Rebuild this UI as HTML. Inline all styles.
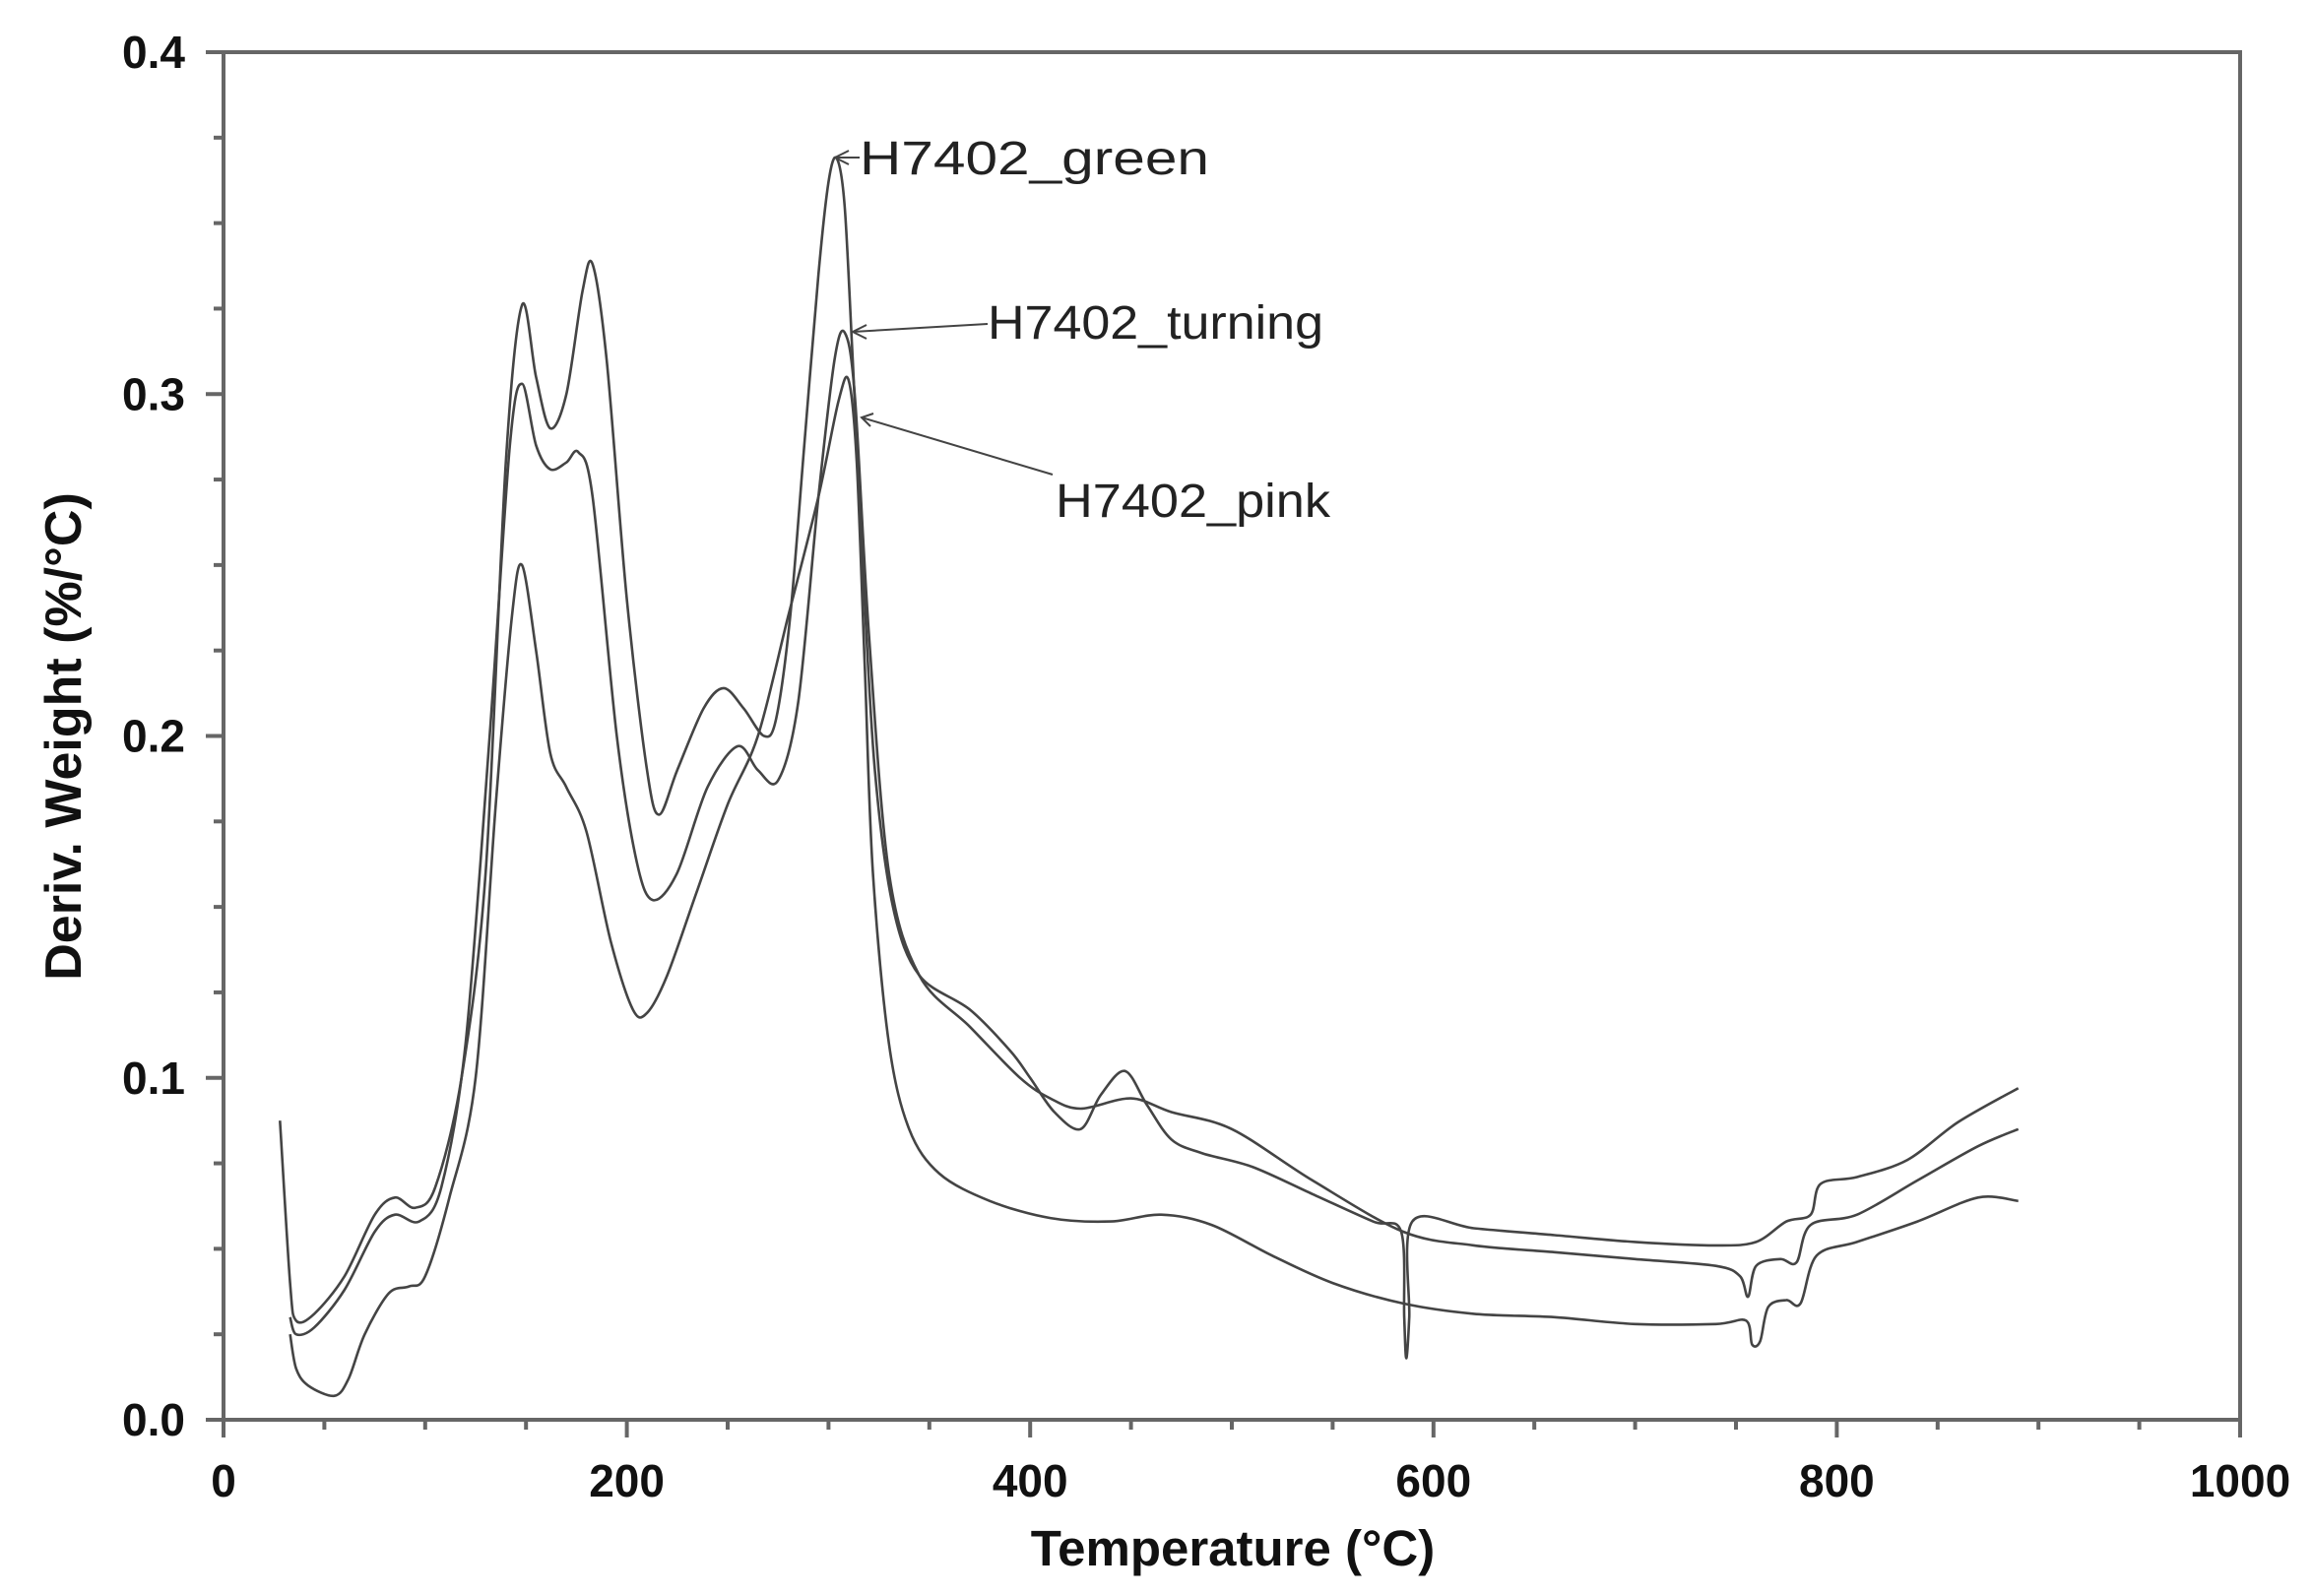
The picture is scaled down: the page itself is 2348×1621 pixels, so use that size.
<!DOCTYPE html>
<html><head><meta charset="utf-8"><style>
html,body{margin:0;padding:0;background:#fff}
svg{display:block}
text{font-family:"Liberation Sans",Arial,sans-serif}
.tk{font-size:46px;font-weight:bold;fill:#111}
.lb{font-size:48px;fill:#222}
</style></head><body>
<svg id="s" width="2348" height="1621" viewBox="0 0 2348 1621" xmlns="http://www.w3.org/2000/svg">
<rect width="2348" height="1621" fill="#fff"/>
<g id="ax" stroke="#666" stroke-width="4" fill="none"></g>
<g id="tx"></g>
<g id="cv" stroke="#444" stroke-width="2.6" fill="none"></g>
<text class="lb" x="873" y="177" textLength="355" lengthAdjust="spacingAndGlyphs">H7402_green</text>
<text class="lb" x="1003" y="344" textLength="341" lengthAdjust="spacingAndGlyphs">H7402_turning</text>
<text class="lb" x="1072" y="525" textLength="279" lengthAdjust="spacingAndGlyphs">H7402_pink</text>
<g stroke="#444" stroke-width="2" fill="none">
<line x1="873" y1="160" x2="848" y2="160"/><path d="M862 153 L848 160 L862 167"/>
<line x1="1003" y1="329" x2="866" y2="337"/><path d="M880 330 L866 337 L880 344"/>
<line x1="1069" y1="482" x2="875" y2="424"/><path d="M887 420 L875 424 L884 433"/>
</g>
<text x="1252" y="1590" text-anchor="middle" style="font-size:51px;font-weight:bold;fill:#111">Temperature (°C)</text>
<text transform="translate(82,748) rotate(-90)" text-anchor="middle" style="font-size:52px;font-weight:bold;fill:#111">Deriv. Weight (%/°C)</text>
</svg>
<script>
var X0=227,X1=2275,Y0=1442,YT=53;
function px(t){return X0+(X1-X0)*t/1000}
function py(v){return Y0-(Y0-YT)*v/0.4}
var ax=document.getElementById('ax'),tx=document.getElementById('tx'),NS='http://www.w3.org/2000/svg';
function el(p,n,a,t){var e=document.createElementNS(NS,n);for(var k in a)e.setAttribute(k,a[k]);if(t!=null)e.textContent=t;p.appendChild(e);return e}
el(ax,'rect',{x:X0,y:YT,width:X1-X0,height:Y0-YT});
for(var t=0;t<=1000;t+=50){var x=px(t);el(ax,'line',{x1:x,y1:Y0,x2:x,y2:Y0+(t%200==0?18:10)});}
for(var t=0;t<=1000;t+=200)el(tx,'text',{x:px(t),y:Y0+78,'text-anchor':'middle','class':'tk'},String(t));
for(var i=0;i<=16;i++){var v=i*0.025,y=py(v);el(ax,'line',{x1:X0,y1:y,x2:X0-(i%4==0?18:10),y2:y});}
for(var i=0;i<=4;i++)el(tx,'text',{x:188,y:py(i*0.1)+16,'text-anchor':'end','class':'tk'},(i*0.1).toFixed(1));
var green=[[28,0.0875],[33,0.04],[36,0.029],[45,0.031],[60,0.042],[75,0.06],[85,0.065],[95,0.062],[105,0.068],[118,0.1],[130,0.16],[140,0.28],[148,0.326],[155,0.305],[162,0.29],[170,0.3],[178,0.33],[183,0.338],[190,0.31],[200,0.24],[210,0.19],[216,0.177],[225,0.19],[238,0.208],[248,0.214],[258,0.208],[268,0.2],[274,0.205],[281,0.235],[288,0.285],[295,0.335],[300,0.362],[304,0.369],[308,0.355],[312,0.31],[317,0.25],[323,0.19],[332,0.15],[345,0.13],[370,0.12],[390,0.108],[400,0.1],[412,0.09],[425,0.085],[435,0.095],[447,0.102],[458,0.092],[470,0.082],[485,0.078],[510,0.074],[540,0.066],[570,0.058],[584,0.055],[585.5,0.03],[586.5,0.018],[588,0.03],[589.5,0.058],[620,0.056],[660,0.054],[700,0.052],[740,0.051],[760,0.052],[775,0.058],[787,0.06],[792,0.069],[810,0.071],[835,0.076],[860,0.087],[890,0.097]];
var turning=[[33,0.03],[36,0.025],[45,0.027],[60,0.038],[75,0.055],[85,0.06],[97,0.058],[108,0.068],[120,0.11],[132,0.2],[142,0.285],[148,0.303],[155,0.285],[162,0.278],[170,0.28],[176,0.283],[183,0.27],[195,0.2],[205,0.163],[213,0.152],[225,0.16],[240,0.185],[255,0.197],[265,0.19],[275,0.187],[285,0.21],[295,0.27],[303,0.31],[308,0.318],[313,0.3],[320,0.23],[330,0.16],[345,0.13],[370,0.115],[395,0.1],[410,0.094],[425,0.091],[450,0.094],[470,0.09],[500,0.085],[540,0.07],[585,0.055],[620,0.051],[660,0.049],[700,0.047],[740,0.045],[752,0.042],[756,0.036],[760,0.045],[772,0.047],[780,0.046],[787,0.057],[810,0.06],[840,0.07],[870,0.08],[890,0.085]];
var pink=[[33,0.025],[36,0.015],[42,0.01],[55,0.007],[62,0.012],[70,0.025],[82,0.037],[92,0.039],[100,0.042],[112,0.065],[125,0.1],[135,0.18],[143,0.235],[148,0.25],[155,0.225],[162,0.195],[170,0.185],[180,0.172],[192,0.14],[203,0.12],[210,0.119],[220,0.13],[235,0.155],[250,0.18],[265,0.2],[280,0.235],[295,0.27],[305,0.298],[310,0.304],[314,0.28],[318,0.22],[322,0.16],[330,0.11],[340,0.085],[355,0.072],[380,0.064],[410,0.059],[440,0.058],[465,0.06],[490,0.057],[520,0.048],[550,0.04],[585,0.034],[620,0.031],[660,0.03],[700,0.028],[740,0.028],[755,0.029],[758,0.022],[762,0.023],[766,0.033],[775,0.035],[782,0.034],[790,0.048],[810,0.052],[840,0.058],[870,0.065],[890,0.064]];
function path(d){var P=d.map(function(p){return[px(p[0]),py(p[1])]});var s='M'+P[0][0].toFixed(1)+' '+P[0][1].toFixed(1);
for(var i=0;i<P.length-1;i++){var p0=P[i-1]||P[i],p1=P[i],p2=P[i+1],p3=P[i+2]||P[i+1];var k=0.16;
s+=' C'+(p1[0]+(p2[0]-p0[0])*k).toFixed(1)+' '+(p1[1]+(p2[1]-p0[1])*k).toFixed(1)+' '+(p2[0]-(p3[0]-p1[0])*k).toFixed(1)+' '+(p2[1]-(p3[1]-p1[1])*k).toFixed(1)+' '+p2[0].toFixed(1)+' '+p2[1].toFixed(1);}
return s}
var cv=document.getElementById('cv');
[green,turning,pink].forEach(function(d){el(cv,'path',{d:path(d)})});
</script>
</body></html>
